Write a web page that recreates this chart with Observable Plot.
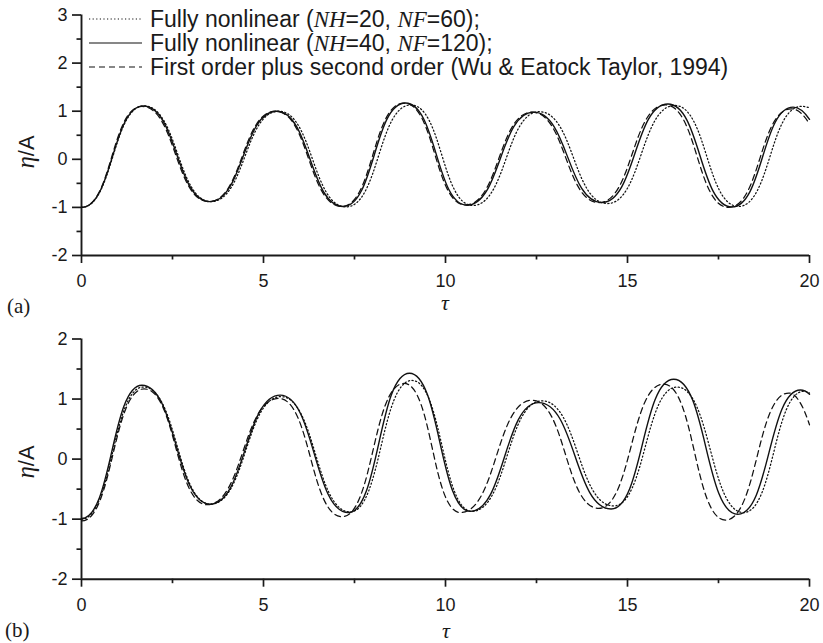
<!DOCTYPE html>
<html>
<head>
<meta charset="utf-8">
<script src="https://cdn.jsdelivr.net/npm/d3@7"></script>
<script src="https://cdn.jsdelivr.net/npm/@observablehq/plot@0.6"></script>
<style>
  html, body { margin: 0; padding: 0; background: #fff; }
  #fig { position: relative; width: 823px; height: 643px; overflow: hidden; font-family: "Liberation Sans", Arial, sans-serif; color: #1a1a1a; }
  .abs { position: absolute; line-height: 1; }
  .serif { font-family: "Liberation Serif", "Times New Roman", serif; }
  .it { font-style: italic; }
  .legrow { position: absolute; left: 88px; height: 24px; line-height: 24px; display: flex; align-items: center; font-size: 23px; white-space: nowrap; }
  .legrow svg { margin-right: 7px; flex: none; }
</style>
</head>
<body>
<div id="fig"></div>
<script>
// ---- tick values ----
const xMajor = [0, 5, 10, 15, 20];
const xMinor = [2.5, 7.5, 12.5, 17.5];
const yMajorA = [-2, -1, 0, 1, 2, 3];
const yMinorA = [-1.5, -0.5, 0.5, 1.5, 2.5];
const yMajorB = [-2, -1, 0, 1, 2];
const yMinorB = [-1.5, -0.5, 0.5, 1.5];

// ---- panel (a): extrema ----
const tauA_NH20 = [0, 1.72, 3.56, 5.42, 7.27, 9.05, 10.75, 12.58, 14.45, 16.30, 18.05, 19.78, 20];
const etaA_NH20 = [-1.0, 1.11, -0.88, 1.0, -0.99, 1.13, -0.96, 0.99, -0.92, 1.12, -0.98, 1.10, 1.07];
const tauA_NH40 = [0, 1.70, 3.52, 5.36, 7.19, 8.90, 10.59, 12.42, 14.30, 16.11, 17.87, 19.55, 20];
const etaA_NH40 = [-1.0, 1.11, -0.88, 1.00, -0.98, 1.17, -0.955, 0.98, -0.90, 1.15, -0.99, 1.085, 0.83];
const tauA_WU = [0, 1.66, 3.50, 5.33, 7.15, 8.86, 10.55, 12.38, 14.22, 16.04, 17.78, 19.50, 20];
const etaA_WU = [-1.0, 1.10, -0.88, 1.0, -0.98, 1.17, -0.95, 0.98, -0.90, 1.13, -1.0, 1.05, 0.73];

// ---- panel (b) ----
const tauB_NH20 = [0, 1.70, 3.55, 5.48, 7.38, 9.08, 10.73, 12.65, 14.62, 16.36, 18.19, 19.85, 20];
const etaB_NH20 = [-1.0, 1.20, -0.75, 1.04, -0.88, 1.31, -0.87, 0.97, -0.78, 1.20, -0.89, 1.13, 1.10];
const tauB_NH40 = [0, 1.66, 3.53, 5.46, 7.33, 9.01, 10.68, 12.56, 14.55, 16.27, 18.03, 19.75, 20];
const etaB_NH40 = [-0.99, 1.23, -0.75, 1.065, -0.89, 1.43, -0.87, 0.94, -0.83, 1.33, -0.92, 1.15, 1.08];
const tauB_WU = [0, 1.72, 3.45, 5.42, 7.16, 8.86, 10.41, 12.38, 14.21, 15.99, 17.69, 19.43, 20];
const etaB_WU = [-1.03, 1.17, -0.76, 1.01, -0.96, 1.26, -0.89, 0.98, -0.82, 1.25, -1.015, 1.10, 0.57];

const seriesNames = [
  "Fully nonlinear (NH=20, NF=60)",
  "Fully nonlinear (NH=40, NF=120)",
  "First order plus second order (Wu & Eatock Taylor, 1994)"
];
const dashes = ["1.2,2.4", null, "6,4"];

function rows(tau, eta) { return tau.map((t, i) => ({t, e: eta[i]})); }

// Curve through extrema: flat tangent at every given point (crests/troughs),
// except the last point (end of record), which is reached on a slope.
function crestCurve(context) {
  let pts;
  return {
    areaStart() {}, areaEnd() {},
    lineStart() { pts = []; },
    point(x, y) { pts.push([+x, +y]); },
    lineEnd() {
      if (!pts.length) return;
      context.moveTo(pts[0][0], pts[0][1]);
      for (let i = 1; i < pts.length; i++) {
        const [x0, y0] = pts[i - 1], [x1, y1] = pts[i];
        const xm = (x0 + x1) / 2;
        if (i === pts.length - 1) context.quadraticCurveTo(xm, y0, x1, y1);
        else context.bezierCurveTo(xm, y0, xm, y1, x1, y1);
      }
    }
  };
}

function panel(opts) {
  const {height, mt, mb, yDomain, yMajor, yMinor, series} = opts;
  const lineMarks = series.map(([tau, eta], i) =>
    Plot.line(rows(tau, eta), {
      x: "t", y: "e", curve: crestCurve, stroke: "#111",
      strokeWidth: i === 1 ? 1.4 : 1.25,
      strokeDasharray: dashes[i]
    }));
  return Plot.plot({
    width: 823, height,
    marginLeft: 81, marginRight: 14, marginTop: mt, marginBottom: mb,
    x: {domain: [0, 20]},
    y: {domain: yDomain},
    style: {fontFamily: '"Liberation Sans", Arial, sans-serif', fontSize: "18px", color: "#1a1a1a", background: "transparent", overflow: "visible"},
    marks: [
      Plot.axisX({ticks: xMajor, tickSize: 8, tickPadding: 11, strokeWidth: 1.7, label: null, tickFormat: d => String(d)}),
      Plot.axisX({ticks: xMinor, tickSize: 4.5, strokeWidth: 1.7, label: null, tickFormat: () => ""}),
      Plot.axisY({ticks: yMajor, tickSize: 9, tickPadding: 5, strokeWidth: 1.7, label: null, tickFormat: d => String(d)}),
      Plot.axisY({ticks: yMinor, tickSize: 4.5, strokeWidth: 1.7, label: null, tickFormat: () => ""}),
      Plot.ruleX([0], {stroke: "#1a1a1a", strokeWidth: 1.9}),
      Plot.ruleY([yDomain[0]], {stroke: "#1a1a1a", strokeWidth: 1.9}),
      ...lineMarks
    ]
  });
}

const fig = document.getElementById("fig");

const pA = panel({
  height: 310, mt: 14.5, mb: 55, yDomain: [-2, 3], yMajor: yMajorA, yMinor: yMinorA,
  series: [[tauA_NH20, etaA_NH20], [tauA_NH40, etaA_NH40], [tauA_WU, etaA_WU]]
});
pA.style.position = "absolute"; pA.style.left = "0px"; pA.style.top = "0px";
fig.appendChild(pA);

const pB = panel({
  height: 333, mt: 28.5, mb: 64.3, yDomain: [-2, 2], yMajor: yMajorB, yMinor: yMinorB,
  series: [[tauB_NH20, etaB_NH20], [tauB_NH40, etaB_NH40], [tauB_WU, etaB_WU]]
});
pB.style.position = "absolute"; pB.style.left = "0px"; pB.style.top = "310px";
fig.appendChild(pB);

// ---- axis labels and panel tags ----
function addHTML(html, css) {
  const d = document.createElement("div");
  d.className = "abs";
  d.innerHTML = html;
  Object.assign(d.style, css);
  fig.appendChild(d);
  return d;
}
const tauLabel = '<span class="serif it">τ</span>';
addHTML(tauLabel, {left: "437px", top: "292px", fontSize: "22px", width: "16px", textAlign: "center"});
addHTML(tauLabel, {left: "438px", top: "620px", fontSize: "22px", width: "16px", textAlign: "center"});
addHTML('<span class="serif">(a)</span>', {left: "7px", top: "295px", fontSize: "21px"});
addHTML('<span class="serif">(b)</span>', {left: "5px", top: "619px", fontSize: "21px"});

const etaLabel = '<span class="serif it" style="font-size:25px">η</span><span>/A</span>';
for (const cy of [152, 462]) {
  addHTML(etaLabel, {left: "25px", top: cy + "px", fontSize: "22px", whiteSpace: "nowrap",
    transform: "translate(-50%,-50%) rotate(-90deg)", transformOrigin: "center"});
}

// ---- legend ----
const legendRows = [
  'Fully nonlinear (<span class="serif it">NH</span>=20, <span class="serif it">NF</span>=60);',
  'Fully nonlinear (<span class="serif it">NH</span>=40, <span class="serif it">NF</span>=120);',
  'First order plus second order (Wu &amp; Eatock Taylor, 1994)'
];
const legendY = [19, 43, 67];
legendRows.forEach((html, i) => {
  const r = document.createElement("div");
  r.className = "legrow";
  r.style.top = (legendY[i] - 12) + "px";
  r.title = seriesNames[i];
  const da = dashes[i] ? ` stroke-dasharray="${dashes[i]}"` : "";
  r.innerHTML = `<svg width="55" height="24"><line x1="1" x2="54" y1="12" y2="12" stroke="#111" stroke-width="1.2"${da}/></svg><span>${html}</span>`;
  fig.appendChild(r);
});
</script>
</body>
</html>
